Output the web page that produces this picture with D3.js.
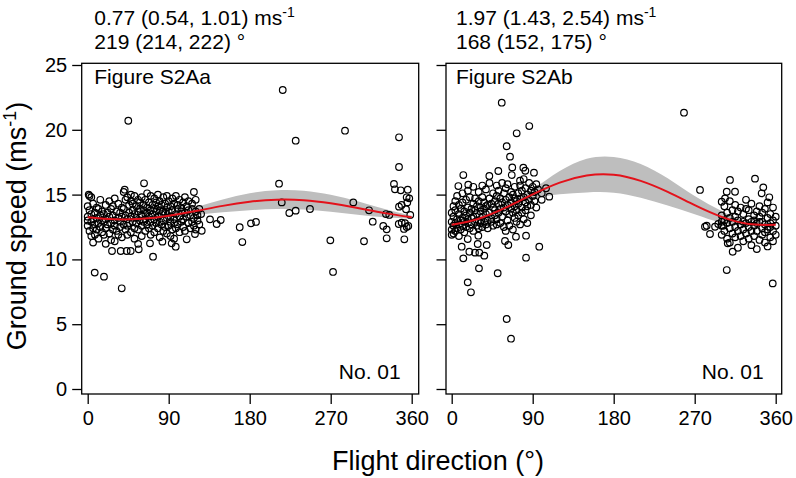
<!DOCTYPE html>
<html><head><meta charset="utf-8">
<script src="https://cdn.jsdelivr.net/npm/d3@7"></script>
<style>body{margin:0;background:#fff} text{font-family:"Liberation Sans",Arial,Helvetica,sans-serif;fill:#000}</style>
</head><body><svg id="c" width="796" height="478"></svg>
<script>
// ---------- data ----------
const xTicks = [0, 90, 180, 270, 360];
const yTicks = [0, 5, 10, 15, 20, 25];
const panelLabels = ["Figure S2Aa", "Figure S2Ab"];
const ampTexts = ["0.77 (0.54, 1.01) ms", "1.97 (1.43, 2.54) ms"];
const phaseTexts = ["219 (214, 222) °", "168 (152, 175) °"];
const idText = "No. 01";

const fitDirs = [0, 30, 60, 90, 120, 150, 180, 210, 240, 270, 300, 330, 360];
const fitA  = [13.25, 13.09, 13.13, 13.37, 13.73, 14.13, 14.45, 14.61, 14.57, 14.33, 13.97, 13.57, 13.25];
const bandA = [0.12, 0.10, 0.10, 0.15, 0.30, 0.50, 0.65, 0.72, 0.72, 0.65, 0.52, 0.32, 0.12];
const fitB  = [12.67, 13.14, 13.99, 15.01, 15.92, 16.47, 16.53, 16.06, 15.21, 14.19, 13.28, 12.73, 12.67];
const bandB = [0.12, 0.12, 0.20, 0.40, 0.90, 1.30, 1.38, 1.30, 1.05, 0.70, 0.45, 0.15, 0.12];

// cluster rows: [direction, speed, speed, ...]
const clusterA = [
[0,12.6,13.3,14.1,13.0],[2,13.8,12.2,14.9],[4,13.5,12.9,11.8],[6,13.1,14.3,12.4,11.3],
[8,13.6,12.7,11.9],[10,13.2,14.0,12.3],[12,13.9,12.8,11.6],[14,13.4,12.5,14.6],
[16,13.0,12.1,13.7],[18,13.5,11.9,12.9],[20,14.2,13.1,12.4,11.2],[22,13.6,12.7],
[24,13.3,14.5,12.0],[26,12.8,13.9,11.5],[28,13.4,12.3,14.1],[30,13.0,14.7,12.6,11.4],
[32,13.7,12.2],[34,13.2,14.3,11.9],[36,12.9,13.6,12.5],[38,14.0,13.3,11.7],
[40,12.7,13.9,15.2],[42,13.4,12.3,14.6],[44,13.1,14.8,11.9,12.6],[46,13.6,14.2,12.8],
[48,13.3,14.5,12.1,15.0],[50,12.9,13.8,14.3],[52,13.5,12.4,14.9,11.6],[54,13.2,14.1,12.8],
[56,13.7,14.6,12.3,11.2],[58,13.0,13.9,14.4],[60,13.4,12.6,14.8,11.8],[62,13.8,12.9,14.2],
[64,13.1,14.6,12.2,13.5],[66,13.6,12.7,14.0,15.1],[68,13.3,14.4,12.4],[70,12.9,13.8,14.9,11.9],
[72,13.5,14.2,12.6],[74,13.1,14.7,12.1,13.9],[76,13.7,12.8,14.4],[78,13.3,14.1,12.4,15.0],
[80,12.9,13.8,14.5,11.7],[82,13.5,14.2,12.7],[84,13.0,14.8,12.2,13.7],[86,13.6,12.5,14.3],
[88,13.2,14.0,12.0,14.9],[90,13.7,12.6,14.5],[92,13.3,12.9,14.1,11.8],[94,13.8,12.3,14.7],
[96,13.1,14.3,12.8,11.6],[98,13.5,14.9,12.4],[100,13.9,12.7,14.2],[102,13.3,12.1,14.6],
[104,13.7,12.9,14.0],[106,13.1,14.4,12.5],[108,13.6,12.2,14.8],[110,13.3,14.1],
[112,13.8,12.8,14.5],[114,12.4,13.4],[116,13.9,14.3,12.9],[118,13.2,15.2,12.6],
[120,13.7,14.6,12.3],[122,13.4,13.0],[124,13.9,12.7],[126,13.5]
];
const extraA = [
[45.1,20.7],[62.6,15.87],[41.1,15.38],[1.1,15.0],[4.0,14.8],[7.8,8.98],[18.1,8.67],[37.8,7.77],
[72.6,10.21],[56.7,10.78],[36.7,10.65],[43.3,10.65],[47.8,10.65],[27,10.65],[69.2,11.24],[83,11.37],
[93.3,11.24],[97.8,10.98],[110,11.55],[119.2,11.96],[126.7,12.21],[135.9,13.09],[143.3,12.73],[147.8,13.04],
[168.9,12.48],[171.8,11.34],[181.4,12.78],[187,12.89],
[216.7,23.07],[231.1,19.16],[285.9,19.93],[345.9,19.42],[345.9,17.13],[212.6,15.84],[215.6,14.4],
[224,13.58],[231.1,13.76],[247,13.89],[269.6,11.47],[272.6,9.03],[295.1,14.4],[307,11.4],[312.6,13.79],
[316.7,12.91],[328.4,12.58],[332.2,12.32],[332.2,11.63],[331.4,13.5],[335.1,13.43],[340.3,15.82],
[341.4,15.41],[347.8,15.33],[355.6,15.38],[357.3,14.71],[354.4,14.79],[355.1,14.4],[345.9,14.07],
[348.8,14.2],[353.7,13.87],[358.4,13.43],[345.6,12.73],[348.9,12.83],[352.6,12.79],[354.4,12.5],
[356.2,12.58],[351.4,12.35],[351.8,11.55]
];
const clusterB = [
[0,12.3,12.9,13.6,11.9],[2,12.6,13.3,14.1,12.0],[4,12.2,13.8,12.8,14.5],[6,13.1,12.4,14.9],
[8,12.7,13.5,11.8,14.2],[10,13.0,12.3,13.9],[12,12.6,14.4,13.2,15.1],[14,12.9,13.7,12.1],
[16,13.4,12.5,14.6],[18,13.1,12.8,14.0,15.3],[20,12.4,13.6,14.8],[22,13.9,12.7,13.2],
[24,13.3,14.3,12.2,15.6],[26,12.9,13.8,14.7],[28,13.5,12.6,14.1],[30,13.0,14.5,12.4,15.2],
[32,13.7,12.8,14.0],[34,13.3,14.8,12.5,15.7],[36,13.9,12.9,14.4],[38,13.5,14.1,12.7,15.4],
[40,14.2,13.0,12.4],[42,13.6,14.7,15.9],[44,13.2,14.3,12.9],[46,14.0,12.6,15.1],
[48,13.8,14.5,13.4],[50,14.9,13.1,12.7,15.7],[52,14.3,13.6,15.3],[54,13.9,14.7,12.8],
[56,14.4,13.3,15.9],[58,14.0,15.1,12.5],[60,14.6,13.7,15.5,12.2],[62,14.2,13.0,15.8],
[64,14.8,13.5,12.6],[66,14.4,15.2,13.9],[68,15.0,13.6,12.3],[70,14.1,14.7,15.6,13.2],
[72,14.5,13.8,12.9],[74,15.1,14.3,13.4],[76,14.7,15.7,12.7],[78,14.0,15.3,13.6],
[80,14.8,13.1,16.2],[82,14.4,15.5,13.8],[84,15.0,14.1,12.8],[86,14.6,15.9],
[88,15.3,14.2,13.4],[90,14.9,15.6],[92,15.2,14.5],[94,15.8,14.0],[96,15.4],[100,15.1,14.6],
[300,12.6,13.4,11.9],[303,12.2,13.0,14.1],[306,12.8,11.6,13.6],[309,12.4,13.2,14.5,11.3],
[312,12.9,12.0,13.8],[315,12.5,13.3,11.7,14.2],[318,13.0,12.2,13.7,10.9],[321,12.7,11.8,14.0],
[324,12.3,13.5,12.9,11.4],[327,12.8,13.9,12.0,14.6],[330,12.5,13.1,11.6,13.8],[333,12.9,12.2,14.3,11.1],
[336,12.6,13.4,11.8,13.0],[339,12.2,13.7,12.8,10.8],[342,12.9,11.5,13.3,14.1],[345,12.4,13.6,11.9,12.9],
[348,12.7,11.3,13.9,12.1],[351,12.3,13.2,14.4,11.0],[354,12.8,11.7,13.5,12.5],[357,12.2,13.0,11.4,14.0],
[360,12.6,13.3,11.9]
];
const extraB = [
[55.6,22.09],[86.2,20.29],[72.2,19.73],[61.1,18.73],[64.8,17.93],[67.3,17.1],[79.6,17.08],[81.8,16.84],
[91.4,16.69],[51.8,16.82],[41.8,16.44],[12.9,16.51],[7.4,15.66],[18.4,15.76],[66.7,16.51],[75.9,16.07],
[104.8,15.49],[108.4,14.84],[97.3,10.98],[82.6,10.13],[51.1,8.93],[30.3,9.31],[17.8,8.23],[21.4,7.46],
[61.1,5.40],[65.9,3.88],[12.9,10.08],[36.2,10.29],[30.7,10.52],[11.1,10.98],[19.6,10.59],[25.9,10.52],
[38.9,11.11],[28.9,11.19],[59.2,11.42],[62.9,11.11],[71.4,11.75],[82.6,11.83],[17.8,11.57],[29.6,11.83],
[258.1,21.32],[275.9,15.36],[309.2,16.13],[337,16.23],[305.6,9.18],[356.7,8.15],[281.4,12.52],[287,11.96],
[292.6,12.52],[283.3,12.6],[296.2,12.73],[301.8,12.6],[300,12.91],[305.6,15.22],[314.8,15.22],[303.7,14.71],
[300,14.45],[306.7,11.24],[312.2,10.59],[346.2,15.56],[344.4,15.1],[352.9,14.79]
];

// ---------- drawing ----------
const svg = d3.select("#c");
const flatten = (rows) => rows.flatMap(r => r.slice(1).map(s => [r[0], s]));

const panels = [
  {box:[81.7, 418.7], xr:[87.7, 411.7], head:94.3, lab:94.3, fit:fitA, band:bandA, pts:flatten(clusterA).concat(extraA), i:0},
  {box:[446, 781.7], xr:[451.7, 775.7], head:456, lab:456, fit:fitB, band:bandB, pts:flatten(clusterB).concat(extraB), i:1}
];
const boxTop = 63.3, boxBot = 394;
const y = d3.scaleLinear().domain([0, 25]).range([389, 65]);

panels.forEach(p => {
  const x = d3.scaleLinear().domain([0, 360]).range(p.xr);
  const g = svg.append("g");
  const clipId = "clip" + p.i;
  g.append("clipPath").attr("id", clipId).append("rect")
    .attr("x", p.box[0]).attr("y", boxTop).attr("width", p.box[1]-p.box[0]).attr("height", boxBot-boxTop);
  const inner = g.append("g").attr("clip-path", `url(#${clipId})`);

  const bandData = fitDirs.map((d, k) => ({d, lo: p.fit[k]-p.band[k], hi: p.fit[k]+p.band[k], m: p.fit[k]}));
  inner.append("path").datum(bandData)
    .attr("d", d3.area().x(d => x(d.d)).y0(d => y(d.lo)).y1(d => y(d.hi)).curve(d3.curveNatural))
    .attr("fill", "#bebebe");

  inner.selectAll("circle").data(p.pts).join("circle")
    .attr("cx", d => x(d[0])).attr("cy", d => y(d[1])).attr("r", 3.3)
    .attr("fill", "none").attr("stroke", "#000").attr("stroke-width", 1.2);

  inner.append("path").datum(bandData)
    .attr("d", d3.line().x(d => x(d.d)).y(d => y(d.m)).curve(d3.curveNatural))
    .attr("fill", "none").attr("stroke", "#e3121b").attr("stroke-width", 2);

  g.append("rect").attr("x", p.box[0]).attr("y", boxTop)
    .attr("width", p.box[1]-p.box[0]).attr("height", boxBot-boxTop)
    .attr("fill", "none").attr("stroke", "#000").attr("stroke-width", 1.3);

  // axes
  const ya = d3.axisLeft(y).tickValues(yTicks).tickSize(9.5).tickPadding(5)
    .tickFormat(p.i === 0 ? d3.format("d") : () => "");
  const yg = g.append("g").attr("transform", `translate(${p.box[0]},0)`).call(ya);
  yg.select(".domain").remove();
  yg.selectAll("line").attr("stroke-width", 1.3);
  yg.selectAll("text").attr("font-size", 20).attr("font-family", null);

  const xa = d3.axisBottom(x).tickValues(xTicks).tickSize(10).tickPadding(6.7);
  const xg = g.append("g").attr("transform", `translate(0,${boxBot})`).call(xa);
  xg.select(".domain").remove();
  xg.selectAll("line").attr("stroke-width", 1.3);
  xg.selectAll("text").attr("font-size", 20).attr("font-family", null);

  // texts
  const t1 = g.append("text").attr("x", p.head).attr("y", 25).attr("font-size", 21).text(ampTexts[p.i]);
  t1.append("tspan").attr("dy", -8).attr("font-size", 14).text("-1");
  g.append("text").attr("x", p.head).attr("y", 49.3).attr("font-size", 21).text(phaseTexts[p.i]);
  g.append("text").attr("x", p.lab).attr("y", 83.5).attr("font-size", 21).text(panelLabels[p.i]);
  g.append("text").attr("x", p.box[1]-18).attr("y", 379).attr("font-size", 21)
    .attr("text-anchor", "end").text(idText);
});

// axis titles
const yt = svg.append("text").attr("transform", "translate(26,226) rotate(-90)")
  .attr("text-anchor", "middle").attr("font-size", 27).text("Ground speed (ms");
yt.append("tspan").attr("dy", -10).attr("font-size", 18).text("-1");
yt.append("tspan").attr("dy", 10).text(")");
svg.append("text").attr("x", 438).attr("y", 470).attr("text-anchor", "middle")
  .attr("font-size", 27).text("Flight direction (°)");
</script></body></html>
